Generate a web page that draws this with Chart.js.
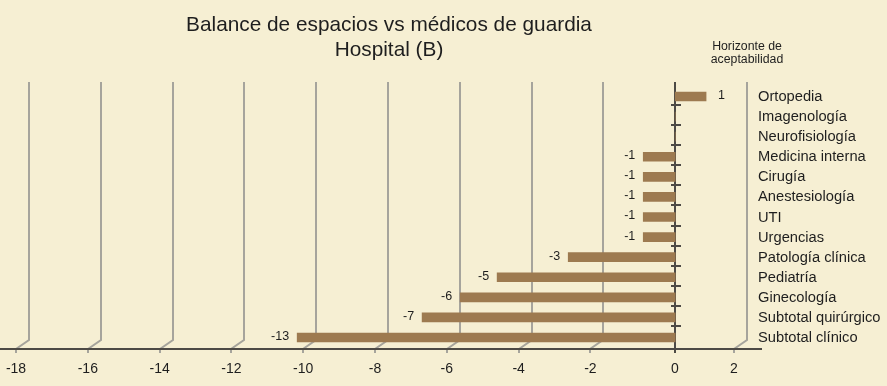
<!DOCTYPE html>
<html>
<head>
<meta charset="utf-8">
<script src="https://cdn.jsdelivr.net/npm/chart.js@4"></script>
<style>
  html, body { margin: 0; padding: 0; background: #f6efd3; }
  #caja { width: 887px; height: 386px; }
</style>
</head>
<body>
<div id="caja"><canvas id="grafico"></canvas></div>
<script>
// Datos
const especialidades = ['Ortopedia', 'Imagenología', 'Neurofisiología', 'Medicina interna', 'Cirugía',
    'Anestesiología', 'UTI', 'Urgencias', 'Patología clínica', 'Pediatría', 'Ginecología',
    'Subtotal quirúrgico', 'Subtotal clínico'];
const balance = [0.86, 0, 0, -0.89, -0.89, -0.89, -0.89, -0.89, -2.98, -4.96, -5.99, -7.05, -10.53];
const etiquetasValor = ['1', '', '', '-1', '-1', '-1', '-1', '-1', '-3', '-5', '-6', '-7', '-13'];
const ticksX = [-18, -16, -14, -12, -10, -8, -6, -4, -2, 0, 2];

const fuente = '"Liberation Sans", Arial, Helvetica, sans-serif';
const colorFondo = '#f6efd3';
const colorBarra = '#9d7a50';
const fondo3D = 13; // desplazamiento del plano de fondo
const bajarBarras = 1.5;

// fondo
const pluginFondo = {
    id: 'fondo',
    beforeDraw(chart) {
        const ctx = chart.ctx;
        ctx.save();
        ctx.fillStyle = colorFondo;
        ctx.fillRect(0, 0, chart.width, chart.height);
        ctx.restore();
    }
};

// rejilla con efecto 3D, eje cero y eje inferior
const pluginRejilla = {
    id: 'rejilla',
    beforeDatasetsDraw(chart) {
        const ctx = chart.ctx;
        const x = chart.scales.x;
        const y = chart.scales.y;
        const area = chart.chartArea;
        const ejeY = area.bottom + 3;
        ctx.save();
        ctx.lineWidth = 2;
        ctx.strokeStyle = '#a6a49c';
        ticksX.forEach(v => {
            if (v === 0) return;
            const xf = Math.round(x.getPixelForValue(v));
            const xb = xf + fondo3D;
            ctx.beginPath();
            ctx.moveTo(xb, area.top - 3);
            ctx.lineTo(xb, ejeY - 9);
            ctx.lineTo(xf, ejeY);
            ctx.lineTo(xf, ejeY + 4);
            ctx.stroke();
        });

        // eje inferior
        ctx.strokeStyle = '#4d4a45';
        ctx.beginPath();
        ctx.moveTo(0, ejeY);
        ctx.lineTo(762, ejeY);
        ctx.stroke();

        // eje cero (en el plano de fondo)
        const x0 = Math.round(x.getPixelForValue(0)) + fondo3D;
        ctx.beginPath();
        ctx.moveTo(x0, area.top - 3);
        ctx.lineTo(x0, ejeY + 4);
        ctx.stroke();

        // marcas entre categorias
        for (let i = 1; i < especialidades.length; i++) {
            const yy = Math.round((y.getPixelForValue(i - 1) + y.getPixelForValue(i)) / 2);
            ctx.beginPath();
            ctx.moveTo(x0 - 4, yy);
            ctx.lineTo(x0 + 6, yy);
            ctx.stroke();
        }

        // etiqueta del cero, alineada con el eje de fondo
        ctx.fillStyle = '#1e1e1e';
        ctx.font = '14px ' + fuente;
        ctx.textAlign = 'center';
        ctx.textBaseline = 'middle';
        ctx.fillText('0', x0, x.top + 23);
        ctx.restore();

        // las barras se dibujan en el plano de fondo
        ctx.save();
        ctx.translate(fondo3D, bajarBarras);
    },
    afterDatasetsDraw(chart) {
        chart.ctx.restore();
    }
};

// textos: titulo, horizonte, valores
const pluginTextos = {
    id: 'textos',
    afterDatasetsDraw(chart) {
        const ctx = chart.ctx;
        const meta = chart.getDatasetMeta(0);
        ctx.save();
        ctx.fillStyle = '#1e1e1e';
        ctx.textBaseline = 'middle';

        ctx.font = '12.5px ' + fuente;
        meta.data.forEach((barra, i) => {
            const texto = etiquetasValor[i];
            if (!texto) return;
            const xb = barra.x + fondo3D;
            const yb = barra.y + bajarBarras - 1;
            if (balance[i] < 0) {
                ctx.textAlign = 'right';
                ctx.fillText(texto, xb - 8, yb);
            } else {
                ctx.textAlign = 'left';
                ctx.fillText(texto, xb + 12, yb);
            }
        });

        ctx.textAlign = 'center';
        ctx.font = '20.8px ' + fuente;
        ctx.fillText('Balance de espacios vs médicos de guardia', 389, 25);
        ctx.fillText('Hospital (B)', 389, 50);

        ctx.font = '12.3px ' + fuente;
        ctx.fillText('Horizonte de', 747, 47);
        ctx.fillText('aceptabilidad', 747, 60);
        ctx.restore();
    }
};

const ctx = document.getElementById('grafico').getContext('2d');
const grafico = new Chart(ctx, {
    type: 'bar',
    data: {
        labels: especialidades,
        datasets: [{
            data: balance,
            backgroundColor: colorBarra,
            borderWidth: 0,
            barThickness: 9
        }]
    },
    options: {
        indexAxis: 'y',
        responsive: true,
        maintainAspectRatio: false,
        animation: false,
        layout: {
            padding: { left: 16, top: 85, right: 0, bottom: 0 }
        },
        scales: {
            x: {
                type: 'linear',
                min: -18,
                max: 2,
                afterFit(scale) { scale.height = 40; },
                afterBuildTicks(scale) { scale.ticks = ticksX.map(v => ({ value: v })); },
                grid: { display: false, drawTicks: true, tickLength: 13 },
                border: { display: false },
                ticks: {
                    padding: 2,
                    color: '#1e1e1e',
                    font: { family: fuente, size: 14 },
                    callback: v => (v === 0 ? '' : String(v))
                }
            },
            y: {
                position: 'right',
                afterFit(scale) { scale.width = 153; },
                grid: { display: false, drawTicks: false },
                border: { display: false },
                ticks: {
                    autoSkip: false,
                    padding: 24,
                    labelOffset: 2,
                    color: '#1e1e1e',
                    font: { family: fuente, size: 14.7 }
                }
            }
        },
        plugins: {
            legend: { display: false },
            tooltip: { enabled: false }
        }
    },
    plugins: [pluginFondo, pluginRejilla, pluginTextos]
});
</script>
</body>
</html>
